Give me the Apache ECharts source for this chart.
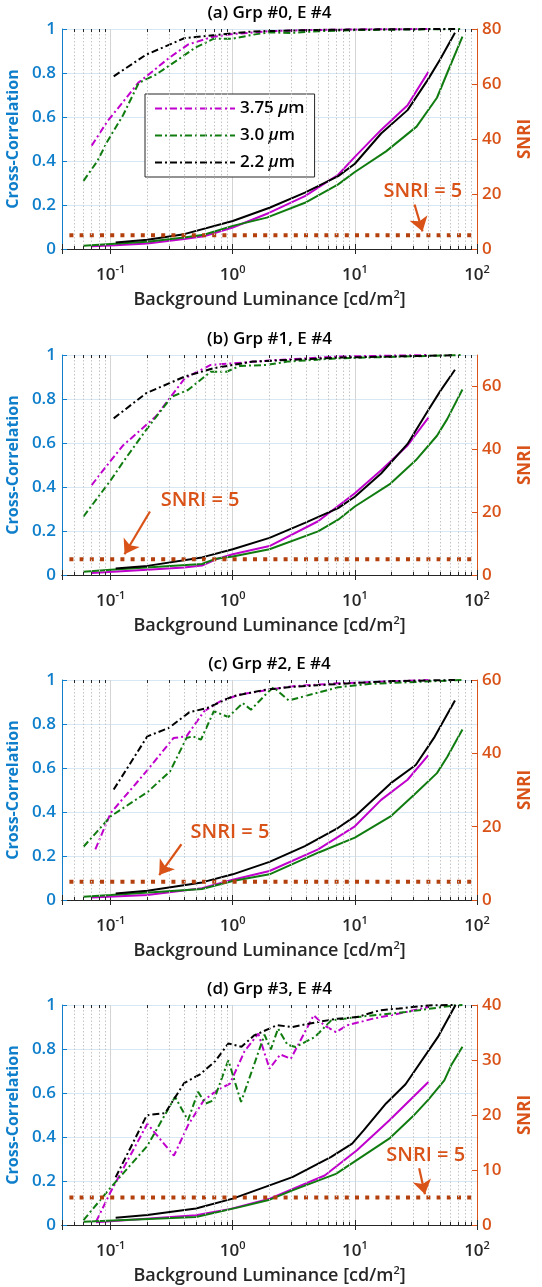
<!DOCTYPE html>
<html>
<head>
<meta charset="utf-8">
<script src="https://cdn.jsdelivr.net/npm/echarts@6/dist/echarts.min.js"></script>
<style>
  html, body { margin: 0; padding: 0; background: #fff; }
  #chart { width: 542px; height: 1287px; }
</style>
</head>
<body>
<div id="chart"></div>
<script>
// wavelengths (legend), panel titles, axis ranges
const wavelengths = ['3.75 μm', '3.0 μm', '2.2 μm'];
const titles = ['(a) Grp #0, E #4', '(b) Grp #1, E #4', '(c) Grp #2, E #4', '(d) Grp #3, E #4'];
const snriMax = [80, 70, 60, 40];
const snriStep = [20, 20, 20, 10];
const snriThreshold = 5;

// [luminance cd/m2, cross-correlation]  (dash-dot, left axis)
const grp0CcMagenta = [[0.07,0.47],[0.094,0.58],[0.127,0.67],[0.168,0.755],[0.22,0.807],[0.30,0.868],[0.43,0.929],[0.66,0.962],[1.0,0.977],[2.0,0.99],[4,0.995],[10,0.998],[40,1.0]];
const grp0CcGreen = [[0.06,0.31],[0.078,0.40],[0.094,0.489],[0.127,0.61],[0.17,0.755],[0.234,0.792],[0.34,0.853],[0.49,0.914],[0.70,0.956],[1.0,0.956],[1.46,0.974],[2.0,0.985],[3,0.982],[5,0.99],[10,0.995],[30,0.998],[76,1.0]];
const grp0CcBlack = [[0.106,0.785],[0.195,0.883],[0.405,0.959],[1.46,0.989],[5,0.996],[20,0.999],[66,1.0]];
// [luminance, SNRI]  (solid, right axis)
const grp0SnriMagenta = [[0.07,1.0],[0.11,1.4],[0.2,2.0],[0.4,3.6],[0.58,4.6],[1,7.8],[2,13.2],[3.9,19.2],[7.3,27.0],[10,33.5],[16.4,43.3],[27,52.3],[40,64.4]];
const grp0SnriGreen = [[0.06,1.2],[0.1,1.8],[0.2,2.6],[0.4,4.2],[0.58,5.2],[1,8.4],[1.9,11.4],[3.9,16.8],[7.3,23.5],[10,28.0],[18,35.5],[32,44.5],[47,55],[57,64],[76,77.2]];
const grp0SnriBlack = [[0.11,2.4],[0.2,3.4],[0.4,5.4],[1,10.2],[2,15],[3.9,20.5],[7.3,26.5],[10,31],[16.4,42],[27,50.5],[39.5,61.5],[50,69],[66,78.6]];

const grp1CcMagenta = [[0.07,0.409],[0.094,0.50],[0.127,0.59],[0.234,0.72],[0.405,0.894],[0.66,0.955],[1.0,0.962],[2,0.975],[7.3,0.993],[40,1.0]];
const grp1CcGreen = [[0.06,0.266],[0.1,0.43],[0.127,0.515],[0.195,0.659],[0.316,0.81],[0.43,0.841],[0.66,0.924],[0.89,0.924],[1.14,0.95],[1.9,0.955],[2.8,0.97],[7.3,0.985],[46,0.997],[76,1.0]];
const grp1CcBlack = [[0.106,0.712],[0.195,0.826],[0.405,0.902],[0.70,0.94],[1.46,0.97],[7.3,0.988],[66,0.999]];
const grp1SnriMagenta = [[0.07,0.6],[0.2,1.7],[0.4,2.4],[0.56,3.0],[0.73,5.0],[1,6.6],[2,9.2],[5,17.1],[10,26],[16.4,33.3],[27,41.2],[40,50.1]];
const grp1SnriGreen = [[0.06,1.05],[0.1,1.7],[0.56,3.5],[0.73,5.2],[1,5.9],[2,8.2],[5,13.9],[7.3,17.6],[10,21.8],[19.6,29.1],[31.5,36.5],[47,44.3],[57,49.6],[76,59]];
const grp1SnriBlack = [[0.11,2.1],[0.2,2.9],[0.56,5.6],[1,8.2],[2,11.8],[3.9,16.6],[7.3,21.3],[10,24.9],[16.4,32.3],[27,41.7],[39.5,52.2],[50,58.5],[66,65.3]];

const grp2CcMagenta = [[0.075,0.23],[0.1,0.395],[0.2,0.59],[0.327,0.736],[0.418,0.744],[0.583,0.858],[0.79,0.903],[1.14,0.934],[1.86,0.953],[3.0,0.971],[7.3,0.985],[40,1.0]];
const grp2CcGreen = [[0.06,0.242],[0.1,0.38],[0.2,0.49],[0.307,0.585],[0.418,0.736],[0.47,0.744],[0.55,0.729],[0.70,0.858],[0.92,0.832],[1.21,0.895],[1.41,0.865],[1.86,0.934],[2.16,0.967],[2.87,0.907],[7.3,0.967],[13,0.982],[76,1.0]];
const grp2CcBlack = [[0.106,0.502],[0.20,0.744],[0.30,0.782],[0.44,0.853],[0.62,0.873],[1.0,0.926],[1.86,0.956],[3.0,0.968],[7.3,0.982],[20,0.995],[66,1.0]];
const grp2SnriMagenta = [[0.07,0.7],[0.2,1.35],[0.56,3.2],[1,5.5],[2,7.9],[5,13.8],[10,20.1],[16.4,27.3],[27,32.8],[40,39.5]];
const grp2SnriGreen = [[0.06,0.9],[0.1,1.35],[0.56,3.0],[1,5.2],[2,7.0],[5,12.9],[10,17],[19.6,22.8],[31.5,29.1],[47,34.6],[57,39],[76,46.5]];
const grp2SnriBlack = [[0.11,1.8],[0.2,2.5],[0.56,4.8],[1,7.0],[2,10.4],[3.9,14.7],[7.3,19.7],[10,22.8],[19.6,31.8],[31.5,36.8],[45,44.5],[66,54.4]];

const grp3CcMagenta = [[0.076,0.015],[0.1,0.15],[0.2,0.46],[0.33,0.315],[0.43,0.453],[0.58,0.567],[0.745,0.612],[0.95,0.643],[1.25,0.79],[1.62,0.87],[2.0,0.711],[2.45,0.775],[2.99,0.756],[4.6,0.953],[5.6,0.908],[7.0,0.877],[8.7,0.908],[14.1,0.938],[23,0.961],[40,0.991]];
const grp3CcGreen = [[0.06,0.022],[0.1,0.17],[0.2,0.36],[0.337,0.582],[0.43,0.476],[0.52,0.605],[0.60,0.552],[0.70,0.567],[0.92,0.749],[1.17,0.559],[1.82,0.865],[2.05,0.798],[2.35,0.893],[2.8,0.82],[3.27,0.809],[4.72,0.855],[6.4,0.93],[10.4,0.945],[26,0.968],[65,0.998],[76,1.0]];
const grp3CcBlack = [[0.11,0.217],[0.198,0.499],[0.28,0.509],[0.40,0.645],[0.54,0.685],[0.72,0.745],[0.92,0.825],[1.18,0.81],[1.5,0.862],[2.3,0.908],[3.08,0.90],[4.18,0.915],[7.2,0.938],[10.4,0.945],[16,0.976],[23,0.984],[40,0.998],[66,1.0]];
const grp3SnriMagenta = [[0.076,0.5],[0.5,1.76],[0.91,2.8],[2.01,4.8],[5.66,9.0],[10.4,13.6],[19.1,19.0],[40,26.0]];
const grp3SnriGreen = [[0.06,0.6],[0.5,1.45],[1.16,3.3],[2.01,4.6],[3.08,6.3],[7.0,9.3],[19.1,15.7],[30,19.8],[40,22.8],[54,26.3],[62,29.2],[76,32.4]];
const grp3SnriBlack = [[0.11,1.3],[0.2,1.8],[0.5,3.0],[1.0,4.8],[3.08,8.7],[6.4,12.4],[9.5,14.8],[11.8,17.2],[18,22.1],[26,25.6],[47.9,34.2],[66.7,40]];

// "SNRI = 5" annotation: text anchor and arrow [tail, tip], in [luminance, SNRI]
const noteText = [[36, 21], [0.54, 23.9], [0.95, 18.5], [38, 12.7]];
const noteArrow = [
  [[30.8, 16.2], [35.8, 6.4]],
  [[0.21, 20.2], [0.13, 6.6]],
  [[0.38, 15.2], [0.25, 6.8]],
  [[33.6, 10.3], [37.5, 5.6]]
];

const ccData = [
  [grp0CcMagenta, grp0CcGreen, grp0CcBlack],
  [grp1CcMagenta, grp1CcGreen, grp1CcBlack],
  [grp2CcMagenta, grp2CcGreen, grp2CcBlack],
  [grp3CcMagenta, grp3CcGreen, grp3CcBlack]
];
const snriData = [
  [grp0SnriMagenta, grp0SnriGreen, grp0SnriBlack],
  [grp1SnriMagenta, grp1SnriGreen, grp1SnriBlack],
  [grp2SnriMagenta, grp2SnriGreen, grp2SnriBlack],
  [grp3SnriMagenta, grp3SnriGreen, grp3SnriBlack]
];

const FONT = '"Open Sans", Roboto, sans-serif';
const BLUE = '#0f7fcb';
const ORANGE = '#D95319';
const DOTS = '#b3400d';
const INK = '#262626';
const lineColors = ['#c000cc', '#107c10', '#000000'];

const TOPS = [29, 355, 680, 1005];
const PLOT_H = 220;
const PLOT_L = 62;
const PLOT_R = 65;
const PLOT_CX = PLOT_L + (542 - PLOT_L - PLOT_R) / 2;

// minor grid positions 2..9 x 10^n
const minorTicks = [];
[-2, -1, 0, 1].forEach(function (d) {
  for (let k = 2; k <= 9; k++) {
    const v = +(k * Math.pow(10, d)).toPrecision(3);
    if (v > 0.04 && v < 100) minorTicks.push(v);
  }
});

const supStyle = { fontSize: 11, fontFamily: FONT, fontWeight: 600, color: INK, lineHeight: 11, verticalAlign: 'top' };

const grid = [], xAxis = [], yAxis = [], series = [], graphic = [];

titles.forEach(function (title, i) {
  grid.push({ left: PLOT_L, right: PLOT_R, top: TOPS[i], height: PLOT_H, outerBoundsMode: 'none' });

  xAxis.push({
    type: 'log', logBase: 10, gridIndex: i, min: 0.04, max: 100, position: 'bottom',
    axisLine: { show: true, lineStyle: { color: INK, width: 1 } },
    axisTick: { show: true, inside: true, length: 5, lineStyle: { color: INK } },
    axisLabel: {
      margin: 15,
      formatter: function (v) {
        const e = Math.log10(v);
        if (Math.abs(e - Math.round(e)) > 1e-6) return '';
        return '{b|10}{s|' + Math.round(e) + '}';
      },
      rich: {
        b: { fontSize: 17, fontFamily: FONT, fontWeight: 600, color: INK, lineHeight: 22 },
        s: supStyle
      }
    },
    splitLine: { show: true, lineStyle: { color: '#d4d4d4', width: 1 } },
    name: 'Background Luminance [cd/m{s|2}]',
    nameLocation: 'middle', nameGap: 40,
    nameTextStyle: {
      fontSize: 18, fontFamily: FONT, fontWeight: 600, color: INK, lineHeight: 22,
      rich: { s: supStyle }
    }
  });
  xAxis.push({
    type: 'log', logBase: 10, gridIndex: i, min: 0.04, max: 100, position: 'top',
    axisLine: { show: true, lineStyle: { color: INK, width: 1 } },
    axisTick: { show: true, inside: true, length: 5, lineStyle: { color: INK } },
    axisLabel: { show: false },
    splitLine: { show: false }
  });

  yAxis.push({
    type: 'value', gridIndex: i, min: 0, max: 1, interval: 0.2, position: 'left',
    axisLine: { show: true, lineStyle: { color: BLUE, width: 1 } },
    axisTick: { show: true, inside: true, length: 5, lineStyle: { color: BLUE } },
    axisLabel: { color: BLUE, fontSize: 17, fontFamily: FONT, fontWeight: 600, margin: 6 },
    splitLine: { show: true, lineStyle: { color: '#d8e7f4', width: 1 } },
    name: 'Cross-Correlation', nameLocation: 'middle', nameGap: 34, nameRotate: 90,
    nameTextStyle: { color: BLUE, fontSize: 16, fontFamily: FONT, fontWeight: 'bold' }
  });
  yAxis.push({
    type: 'value', gridIndex: i, min: 0, max: snriMax[i], interval: snriStep[i], position: 'right',
    axisLine: { show: true, lineStyle: { color: ORANGE, width: 1 } },
    axisTick: { show: true, inside: true, length: 5, lineStyle: { color: ORANGE } },
    axisLabel: {
      color: ORANGE, fontSize: 17, fontFamily: FONT, fontWeight: 600, margin: 5,
      showMaxLabel: snriMax[i] % snriStep[i] === 0
    },
    splitLine: { show: false },
    name: 'SNRI', nameLocation: 'middle', nameGap: 40, nameRotate: 90,
    nameTextStyle: { color: ORANGE, fontSize: 17, fontFamily: FONT, fontWeight: 'bold' }
  });

  const xb = i * 2, yl = i * 2, yr = i * 2 + 1;

  // minor grid lines and minor ticks (box bottom and top)
  series.push({
    type: 'line', xAxisIndex: xb, yAxisIndex: yl, data: [], silent: true, z: 1,
    markLine: {
      silent: true, symbol: 'none', label: { show: false }, animation: false,
      lineStyle: { color: '#c4c4c4', width: 1, type: [1.5, 2] },
      emphasis: { disabled: true },
      data: minorTicks.map(function (v) { return { xAxis: v }; })
    }
  });
  series.push({
    type: 'line', xAxisIndex: xb, yAxisIndex: yl, data: [], silent: true, z: 2,
    markLine: {
      silent: true, symbol: 'none', label: { show: false }, animation: false,
      lineStyle: { color: INK, width: 1, type: 'solid' },
      emphasis: { disabled: true },
      data: minorTicks.map(function (v) { return [{ coord: [v, 0] }, { coord: [v, 0.014] }]; })
        .concat(minorTicks.map(function (v) { return [{ coord: [v, 1] }, { coord: [v, 0.986] }]; }))
    }
  });

  wavelengths.forEach(function (w, k) {
    series.push({
      type: 'line', name: i === 0 ? w : w + ' ' + i + 'cc', xAxisIndex: xb, yAxisIndex: yl,
      data: ccData[i][k], symbol: 'none', showSymbol: false, z: 3,
      lineStyle: { color: lineColors[k], width: 2, type: [7, 3, 2, 3] },
      itemStyle: { color: lineColors[k] }
    });
  });
  wavelengths.forEach(function (w, k) {
    series.push({
      type: 'line', name: w + ' ' + i + 'snri', xAxisIndex: xb, yAxisIndex: yr,
      data: snriData[i][k], symbol: 'none', showSymbol: false, z: 3,
      lineStyle: { color: lineColors[k], width: 2, type: 'solid' },
      itemStyle: { color: lineColors[k] }
    });
  });

  series.push({
    type: 'line', name: 'SNRI = 5 ' + i, xAxisIndex: xb, yAxisIndex: yr,
    data: [[0.046, snriThreshold], [100, snriThreshold]], symbol: 'none', z: 4,
    lineStyle: { color: DOTS, width: 4, type: [4, 6.2], cap: 'butt' },
    itemStyle: { color: ORANGE },
    markLine: {
      silent: true, symbol: ['none', 'arrow'], symbolSize: 14, animation: false,
      label: { show: false }, emphasis: { disabled: true },
      itemStyle: { color: ORANGE },
      lineStyle: { color: ORANGE, width: 2.2, type: 'solid' },
      data: [[{ coord: noteArrow[i][0] }, { coord: noteArrow[i][1] }]]
    },
    markPoint: {
      silent: true, symbol: 'circle', symbolSize: 1, animation: false,
      itemStyle: { color: 'rgba(0,0,0,0)' },
      label: {
        show: true, position: 'inside', formatter: 'SNRI = 5',
        color: ORANGE, fontSize: 20, fontFamily: FONT, fontWeight: 600
      },
      data: [{ coord: noteText[i] }]
    }
  });

  graphic.push({
    type: 'text', x: PLOT_CX, y: TOPS[i] - 16, silent: true,
    style: {
      text: title, textAlign: 'center', textVerticalAlign: 'middle',
      fontSize: 17, fontFamily: FONT, fontWeight: 600, fill: '#000'
    }
  });
});

const chart = echarts.init(document.getElementById('chart'), null, { renderer: 'canvas' });
chart.setOption({
  animation: false,
  backgroundColor: '#fff',
  textStyle: { fontFamily: FONT },
  grid: grid,
  xAxis: xAxis,
  yAxis: yAxis,
  legend: {
    data: wavelengths, left: 145, top: 94, orient: 'vertical',
    itemWidth: 80, itemHeight: 14, itemGap: 10, padding: [6, 10, 6, 9],
    borderColor: INK, borderWidth: 1, backgroundColor: '#fff', selectedMode: false,
    itemStyle: { color: 'rgba(0,0,0,0)', borderColor: 'rgba(0,0,0,0)', borderWidth: 0, opacity: 0 },
    formatter: function (name) { return name.replace('μ', '{mu|μ}'); },
    textStyle: {
      fontSize: 17, fontFamily: FONT, fontWeight: 600, color: '#000',
      rich: { mu: { fontSize: 17, fontFamily: FONT, fontStyle: 'italic', fontWeight: 600, color: '#000' } }
    }
  },
  graphic: graphic,
  series: series
});
</script>
</body>
</html>
